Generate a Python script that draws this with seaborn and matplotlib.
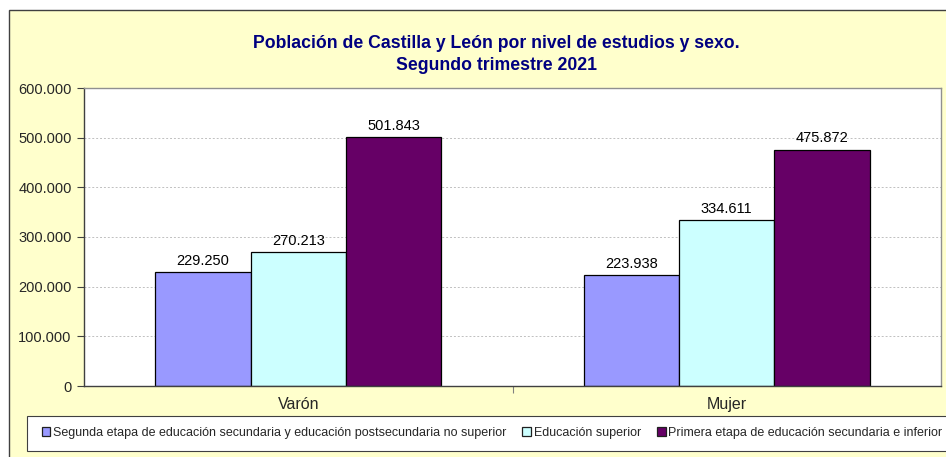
import matplotlib
matplotlib.use("Agg")
import matplotlib.pyplot as plt
import seaborn as sns
import pandas as pd
from matplotlib.patches import Rectangle
from matplotlib.ticker import FuncFormatter, FixedLocator

sexes = ["Varón", "Mujer"]
niveles = [
    "Segunda etapa de educación secundaria y educación postsecundaria no superior",
    "Educación superior",
    "Primera etapa de educación secundaria e inferior",
]
segunda = [229250, 223938]
superior = [270213, 334611]
primera = [501843, 475872]
colores = ["#9999FF", "#CCFFFF", "#660066"]
yticks = [0, 100000, 200000, 300000, 400000, 500000, 600000]

rows = []
for nivel, vals in zip(niveles, [segunda, superior, primera]):
    for s, v in zip(sexes, vals):
        rows.append({"Sexo": s, "Nivel": nivel, "Valor": v})
df = pd.DataFrame(rows)

sns.set_theme(style="white")
plt.rcParams["font.family"] = ["Liberation Sans", "DejaVu Sans"]

fig = plt.figure(figsize=(9.46, 4.57), dpi=100, facecolor="white")
# chart-area background
fig.patches.append(Rectangle((9 / 946, -0.05), 1.0, 1 - 10 / 457 + 0.05,
                             transform=fig.transFigure, facecolor="#FFFFCC",
                             edgecolor="#404040", linewidth=1.0, zorder=-2))

ax = fig.add_axes([84 / 946, 1 - 386 / 457, 857 / 946, 298 / 457])
ax.set_facecolor("white")

sns.barplot(data=df, x="Sexo", y="Valor", hue="Nivel", hue_order=niveles,
            order=sexes, palette=colores, width=0.667, edgecolor="black",
            linewidth=0.9, saturation=1, ax=ax, legend=True)

fmt = lambda v: f"{int(v):,}".replace(",", ".")
for cont in ax.containers:
    ax.bar_label(cont, labels=[fmt(v) for v in cont.datavalues], padding=3,
                 fontsize=10.5, color="black")

ax.set_ylim(0, 600000)
ax.set_xlim(-0.5, 1.5)
ax.set_yticks(yticks)
ax.yaxis.set_major_formatter(FuncFormatter(lambda v, p: fmt(v)))
ax.tick_params(axis="y", which="major", direction="out", length=5, width=0.8,
               color="#404040", labelsize=10.5, pad=4, left=True)
ax.tick_params(axis="x", which="major", length=0, labelsize=11.5, pad=8)
ax.xaxis.set_minor_locator(FixedLocator([0.5]))
ax.tick_params(axis="x", which="minor", direction="out", length=5, width=0.8,
               color="#808080", bottom=True)
ax.yaxis.grid(True, linestyle=(0, (2, 2)), color="#C0C0C0", linewidth=0.7)
ax.set_axisbelow(True)
ax.set_xlabel("")
ax.set_ylabel("")
for side in ["left", "bottom"]:
    ax.spines[side].set_color("#404040")
    ax.spines[side].set_linewidth(1.0)
for side in ["top", "right"]:
    ax.spines[side].set_color("#909090")
    ax.spines[side].set_linewidth(1.0)

fig.text(496 / 946, 1 - 44 / 457, "Población de Castilla y León por nivel de estudios y sexo.",
         ha="center", va="center", fontsize=12.7, fontweight="bold", color="#000080")
fig.text(496 / 946, 1 - 66 / 457, "Segundo trimestre 2021",
         ha="center", va="center", fontsize=12.7, fontweight="bold", color="#000080")

# legend
handles, labels = ax.get_legend_handles_labels()
ax.get_legend().remove()
fig.patches.append(Rectangle((27 / 946, 1 - 451 / 457), 1.0, 35 / 457,
                             transform=fig.transFigure, facecolor="white",
                             edgecolor="#404040", linewidth=0.8, zorder=-1))
for h in handles:
    h.set_edgecolor("#202020")
leg = fig.legend(handles, labels, loc="center", ncol=3,
                 bbox_to_anchor=(492 / 946, 1 - 433 / 457), frameon=False,
                 fontsize=9, handlelength=0.7, handleheight=0.7,
                 handletextpad=0.2, columnspacing=1.3, borderpad=0)

fig.savefig("out.png", dpi=100, facecolor="white")
